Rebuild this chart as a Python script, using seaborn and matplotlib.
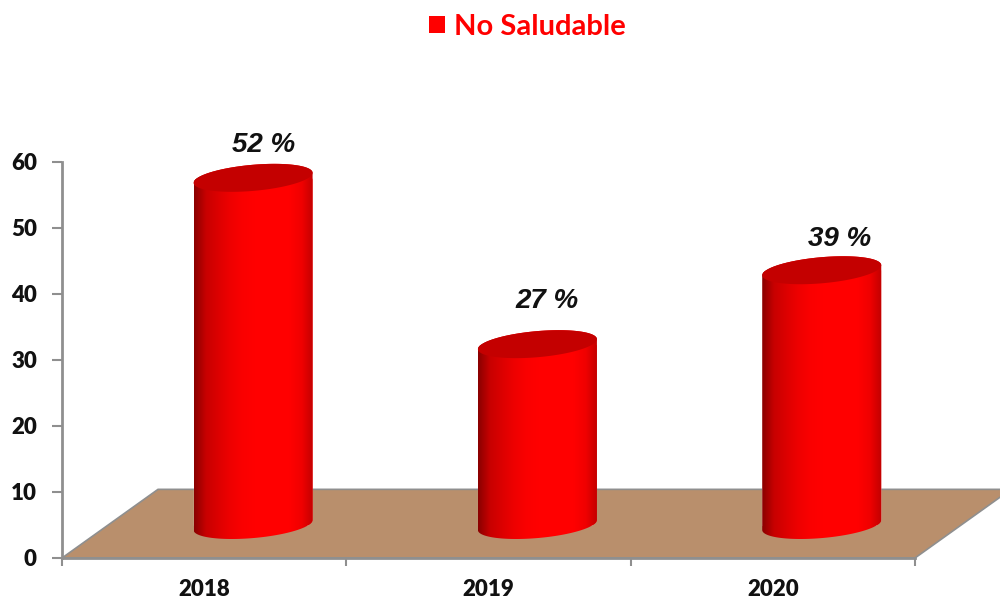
import numpy as np
import pandas as pd
import matplotlib
matplotlib.use("Agg")
import matplotlib.pyplot as plt
from matplotlib.patches import Patch, PathPatch, Polygon
from matplotlib.path import Path
import seaborn as sns

# datos
years = ["2018", "2019", "2020"]
no_saludable = [52.6, 27.4, 38.6]
bar_labels = ["52 %", "27 %", "39 %"]
y_ticks = [0, 10, 20, 30, 40, 50, 60]
series_name = "No Saludable"

sns.set_theme(style="white")
plt.rcParams["font.family"] = ["Lato", "DejaVu Sans"]

GRAY = "#8f8f8f"
FLOOR = "#b98f6c"
RED = "#ff0000"
TOP = "#c40000"

df = pd.DataFrame({"year": years, "value": no_saludable})

fig = plt.figure(figsize=(10, 5.98), dpi=100)
ax = fig.add_axes([0.062, 40 / 598, 0.853, 396 / 598])

sns.barplot(data=df, x="year", y="value", color=RED, width=0.4186, saturation=1, ax=ax, zorder=3)
ax.set_xlim(-0.5, 2.5)
ax.set_ylim(0, 60)

# piso 3D
depth_x = 96 / 284.33
depth_y = 10.4
floor = Polygon(
    [(-0.5, 0), (2.5, 0), (2.5 + depth_x, depth_y), (-0.5 + depth_x, depth_y)],
    closed=True, facecolor=FLOOR, edgecolor=GRAY, lw=1.2, zorder=1, clip_on=False,
)
ax.add_patch(floor)

# cilindros
cyl_cmap = sns.blend_palette(
    ["#8a0000", "#c80000", "#dc0000", "#ee0000", "#fa0000", "#ff0000",
     "#ff0000", "#ff0000", "#ff0000", "#f00000", "#c00000"], as_cmap=True)
gradient = np.linspace(0, 1, 256).reshape(1, -1)
bar_shift = 0.172
bar_base = 5
cap_b = 1.98
cap_tilt = 0.76
label_dx = [10, 10, 18]
label_dy = [33, 43, 31]

for bar, label, dx, dy in zip(ax.patches, bar_labels, label_dx, label_dy):
    bar.set_x(bar.get_x() + bar_shift)
    bar.set_y(bar_base)
    x0 = bar.get_x()
    w = bar.get_width()
    cx = x0 + w / 2
    base = bar.get_y()
    top = base + bar.get_height()

    t_low = np.linspace(np.pi, 2 * np.pi, 60)
    t_up = np.linspace(0, np.pi, 60)
    low_x = cx + w / 2 * np.cos(t_low)
    low_y = base + cap_b * np.sin(t_low) + cap_tilt * np.cos(t_low)
    up_x = cx + w / 2 * np.cos(t_up)
    up_y = top + cap_b * np.sin(t_up) + cap_tilt * np.cos(t_up)

    body = np.column_stack([np.r_[low_x, up_x], np.r_[low_y, up_y]])
    body_patch = PathPatch(Path(np.vstack([body, body[0]]), closed=True), transform=ax.transData, facecolor="none", edgecolor="none")
    ax.add_patch(body_patch)
    bar.set_clip_path(body_patch)

    im = ax.imshow(gradient, extent=[x0, x0 + w, base - 4, top + 4], aspect="auto", cmap=cyl_cmap, zorder=3.5, interpolation="bilinear")
    im.set_clip_path(body_patch)

    t = np.linspace(0, 2 * np.pi, 120)
    cap = np.column_stack([cx + w / 2 * np.cos(t), top + cap_b * np.sin(t) + cap_tilt * np.cos(t)])
    ax.add_patch(Polygon(cap, closed=True, facecolor=TOP, edgecolor="none", zorder=4))

    ax.annotate(label, xy=(cx, top), xytext=(dx, dy), textcoords="offset pixels", ha="center", va="center",
                fontsize=20, fontweight="bold", fontstyle="italic", family="Liberation Sans", color="#111111",
                zorder=5, annotation_clip=False)

ax.set_xlim(-0.5, 2.5)
ax.set_ylim(0, 60)

# ejes
sns.despine(ax=ax)
for side in ["left", "bottom"]:
    ax.spines[side].set_color(GRAY)
    ax.spines[side].set_linewidth(2)
    ax.spines[side].set_zorder(2)
ax.set_xlabel("")
ax.set_ylabel("")
ax.set_yticks(y_ticks)
ax.set_xticks([-0.5, 0.5, 1.5, 2.5], minor=True)
ax.tick_params(axis="x", which="major", length=0, pad=15, labelsize=16, labelcolor="#111111")
ax.tick_params(axis="x", which="minor", bottom=True, length=6, width=1.5, color=GRAY)
ax.tick_params(axis="y", left=True, length=7, width=1.5, color=GRAY, pad=11, labelsize=16, labelcolor="#111111")
for t in ax.get_xticklabels() + ax.get_yticklabels():
    t.set_fontweight("heavy")

# leyenda
fig.legend(handles=[Patch(facecolor=RED, edgecolor="none", label=series_name)], loc="upper left",
           bbox_to_anchor=(0.403, 1.021), frameon=False, handlelength=0.55, handleheight=0.55, handletextpad=0.3,
           prop={"family": "Lato", "weight": "bold", "size": 21}, labelcolor=RED)

fig.savefig("out.png", dpi=100)
